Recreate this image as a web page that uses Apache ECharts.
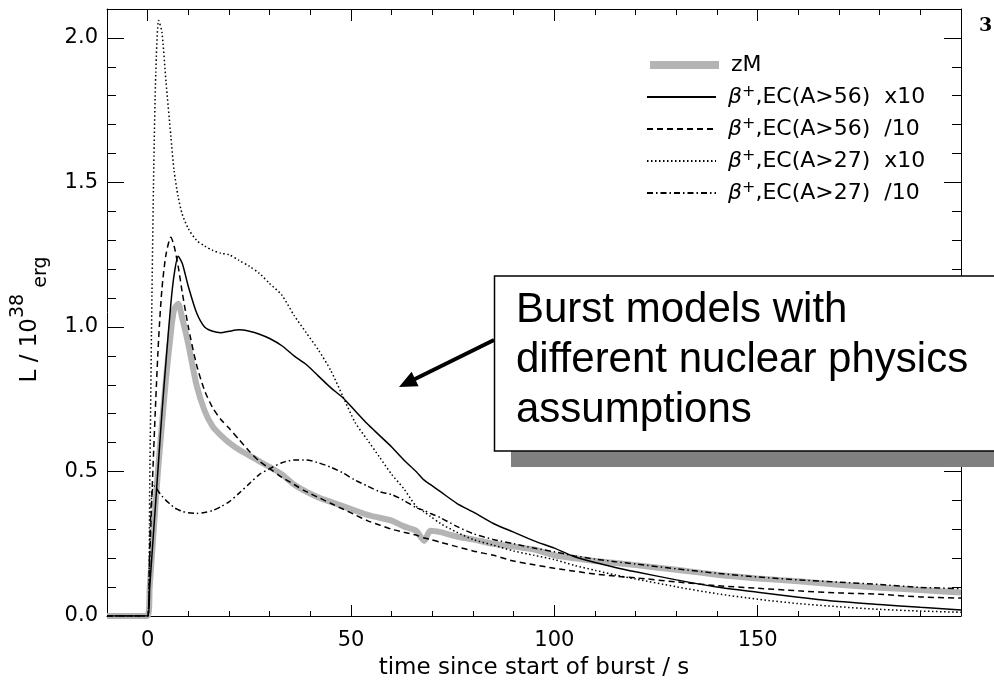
<!DOCTYPE html>
<html><head><meta charset="utf-8">
<script src="https://cdn.jsdelivr.net/npm/echarts@6/dist/echarts.min.js"></script>
<style>html,body{margin:0;padding:0;background:#fff}#c{width:994px;height:685px}</style>
</head><body><div id="c"></div>
<script>
// time since start of burst (s)
const timeSec = [-10,0,0.5,1,1.5,2,2.7,3.5,4.5,5.7,6.5,7.5,8.5,10,12,14,16,18,20,22.5,25,27.5,30,33,36,39,42,45,48,51,54,57,60,63,66,68,69.5,72,76,80,85,90,95,100,105,110,115,120,130,140,150,160,170,180,190,200];
// L / 1e38 erg
const zM = [0,0,0.1,0.2,0.3,0.4,0.53,0.66,0.82,0.98,1.06,1.08,1.03,0.94,0.8,0.71,0.655,0.625,0.6,0.575,0.555,0.535,0.515,0.49,0.455,0.43,0.41,0.395,0.38,0.365,0.35,0.34,0.33,0.31,0.295,0.26,0.295,0.29,0.275,0.265,0.25,0.24,0.23,0.21,0.2,0.19,0.183,0.176,0.16,0.143,0.13,0.12,0.108,0.098,0.09,0.081];
const ec56x10 = [0,0,0.1,0.2,0.3,0.4,0.54,0.7,0.88,1.08,1.18,1.245,1.22,1.14,1.05,1.0,0.985,0.98,0.985,0.99,0.985,0.975,0.96,0.935,0.9,0.87,0.83,0.79,0.755,0.71,0.665,0.625,0.585,0.54,0.5,0.47,0.455,0.43,0.39,0.36,0.32,0.29,0.26,0.235,0.205,0.185,0.168,0.153,0.125,0.1,0.082,0.065,0.05,0.04,0.03,0.021];
const ec56d10 = [0,0,0.2,0.4,0.58,0.75,0.96,1.13,1.25,1.31,1.28,1.21,1.12,1.0,0.87,0.78,0.72,0.68,0.65,0.61,0.57,0.535,0.51,0.48,0.455,0.43,0.41,0.39,0.37,0.35,0.33,0.315,0.3,0.29,0.28,0.27,0.265,0.255,0.24,0.225,0.21,0.19,0.177,0.165,0.155,0.145,0.138,0.132,0.118,0.105,0.096,0.087,0.08,0.075,0.066,0.062];
const ec27x10 = [0,0,0.45,1.05,1.55,1.88,2.06,2.02,1.85,1.66,1.54,1.45,1.39,1.34,1.3,1.28,1.265,1.255,1.25,1.23,1.21,1.185,1.15,1.11,1.04,0.98,0.92,0.85,0.76,0.67,0.61,0.55,0.49,0.44,0.38,0.36,0.345,0.32,0.29,0.265,0.245,0.225,0.21,0.195,0.175,0.158,0.142,0.128,0.101,0.077,0.058,0.043,0.032,0.023,0.017,0.013];
const ec27d10 = [0,0,0.25,0.42,0.45,0.445,0.43,0.415,0.4,0.385,0.375,0.368,0.362,0.357,0.355,0.358,0.365,0.378,0.395,0.425,0.458,0.49,0.51,0.53,0.54,0.54,0.53,0.515,0.495,0.47,0.45,0.43,0.42,0.4,0.375,0.365,0.355,0.34,0.31,0.285,0.265,0.25,0.235,0.222,0.208,0.197,0.188,0.18,0.163,0.148,0.135,0.125,0.117,0.109,0.099,0.095];

const seriesNames = ['zM','EC56x10','EC56d10','EC27x10','EC27d10'];
const legendLabels = ['zM',',EC(A>56)  x10',',EC(A>56)  /10',',EC(A>27)  x10',',EC(A>27)  /10'];
const xTickLabels = [0,50,100,150];
const yTickLabels = [0,0.5,1.0,1.5,2.0];

const FONT = 'DejaVu Sans';
const chart = echarts.init(document.getElementById('c'), null, {renderer:'canvas'});
function pairs(v){ return timeSec.map((t,i)=>[t,v[i]]); }

function xAx(pos, major){
  const a = {type:'value', gridIndex:0, position:pos, min:-10, max:200, splitLine:{show:false},
    axisLine:{show:major, onZero:false, lineStyle:{color:'#000', width:1}},
    axisTick:{show:true, inside:true, length: major ? (pos==='bottom'?11:12) : (pos==='bottom'?5:6), lineStyle:{color:'#000', width:1}},
    axisLabel:{show:false}};
  if (major) { a.axisTick.customValues = xTickLabels; } else { a.interval = 10; }
  if (major && pos==='bottom') {
    a.axisLabel = {show:true, customValues:xTickLabels, margin:14, fontSize:21, fontFamily:FONT, color:'#000'};
    a.name = 'time since start of burst / s'; a.nameLocation='middle'; a.nameGap=41;
    a.nameTextStyle = {fontSize:23, fontFamily:FONT, color:'#000'};
  }
  return a;
}
function yAx(pos, major){
  const a = {type:'value', gridIndex:0, position:pos, min:0, max:2.1, splitLine:{show:false},
    axisLine:{show:major, onZero:false, lineStyle:{color:'#000', width:1}},
    axisTick:{show:true, inside:true, length: major ? 17 : 9, lineStyle:{color:'#000', width:1}},
    axisLabel:{show:false}};
  if (major) { a.axisTick.customValues = yTickLabels; } else { a.interval = 0.1; }
  if (major && pos==='left') {
    a.axisLabel = {show:true, customValues:yTickLabels, margin:9, fontSize:21, fontFamily:FONT, color:'#000', formatter:v=>Number(v).toFixed(1)};
    a.name = '{a|L / 10}{sup|38}{sub| erg}';
    a.nameLocation='middle'; a.nameRotate=90; a.nameGap=56;
    a.nameTextStyle = {fontSize:23, fontFamily:FONT, color:'#000', rich:{
      a:{fontSize:23, fontFamily:FONT, color:'#000', lineHeight:42},
      sup:{fontSize:19, fontFamily:FONT, color:'#000', lineHeight:20, verticalAlign:'top'},
      sub:{fontSize:19, fontFamily:FONT, color:'#000', lineHeight:20, verticalAlign:'bottom', padding:[0,14,0,0]}}};
  }
  return a;
}

const styles = [
  {color:'#b4b4b4', width:6, type:'solid', lw:8},
  {color:'#000', width:1.5, type:'solid', lw:2},
  {color:'#000', width:1.5, type:[6,4], lw:2},
  {color:'#000', width:1.5, type:[1.5,2.5], lw:2},
  {color:'#000', width:1.5, type:[6,3,1.5,3], lw:2}
];
const dataSets = [zM, ec56x10, ec56d10, ec27x10, ec27d10];
const series = seriesNames.map((n,i)=>({
  name:n, type:'line', xAxisIndex:0, yAxisIndex:0, data:pairs(dataSets[i]),
  showSymbol:false, symbol:'none', smooth:0.25, clip: i!==0,
  lineStyle:{color:styles[i].color, width:styles[i].width, type:styles[i].type},
  itemStyle:{color:styles[i].color}, z: i===0?2:3
}));

const rowCenters = [65, 97, 129, 161, 193];
const legends = seriesNames.map((n,i)=>({
  data:[n], left:646, top:rowCenters[i]-13, orient:'vertical', padding:0,
  itemWidth:69, itemHeight:14, selectedMode:false,
  itemStyle:{color:'rgba(0,0,0,0)', borderColor:'rgba(0,0,0,0)', borderWidth:0, opacity:0},
  lineStyle:{color:styles[i].color, width:styles[i].lw, type:styles[i].type, opacity:1},
  formatter: ()=> i===0 ? '{t|zM}' : '{b|β}{s|+}{t|'+legendLabels[i]+'}',
  textStyle:{fontSize:22, fontFamily:FONT, color:'#000', lineHeight:26, rich:{
    t:{fontSize:22, fontFamily:FONT, color:'#000', lineHeight:26, padding: i===0?[0,0,0,7]:0},
    b:{fontSize:22, fontFamily:FONT, fontStyle:'italic', color:'#000', lineHeight:26, padding:[0,0,0,7]},
    s:{fontSize:16, fontFamily:FONT, color:'#000', lineHeight:14, verticalAlign:'top'}
  }}
}));

const option = {
  animation:false,
  backgroundColor:'#fff',
  grid:{left:107, right:33, top:9, bottom:69, containLabel:false},
  xAxis:[xAx('bottom',true), xAx('bottom',false), xAx('top',true), xAx('top',false)],
  yAxis:[yAx('left',true), yAx('left',false), yAx('right',true), yAx('right',false)],
  legend: legends,
  series: series,
  graphic:[
    {type:'rect', z:100, shape:{x:511, y:300, width:520, height:167}, style:{fill:'#808080'}},
    {type:'rect', z:101, shape:{x:494.5, y:276, width:530, height:175}, style:{fill:'#fff', stroke:'#000', lineWidth:1.5}},
    {type:'text', z:102, x:516, y:285, style:{text:'Burst models with\ndifferent nuclear physics\nassumptions', fontSize:42, fontFamily:'Liberation Sans', fill:'#000', lineHeight:50, verticalAlign:'top'}},
    {type:'line', z:100, shape:{x1:494, y1:340, x2:414, y2:379.5}, style:{stroke:'#000', lineWidth:4}},
    {type:'polygon', z:100, shape:{points:[[399,387],[418.6,386.2],[411.6,371.8]]}, style:{fill:'#000'}},
    {type:'text', z:100, x:979, y:17, style:{text:'3', fontSize:19, fontWeight:'bold', fontFamily:'DejaVu Serif', fill:'#000'}}
  ]
};
chart.setOption(option);
</script></body></html>
